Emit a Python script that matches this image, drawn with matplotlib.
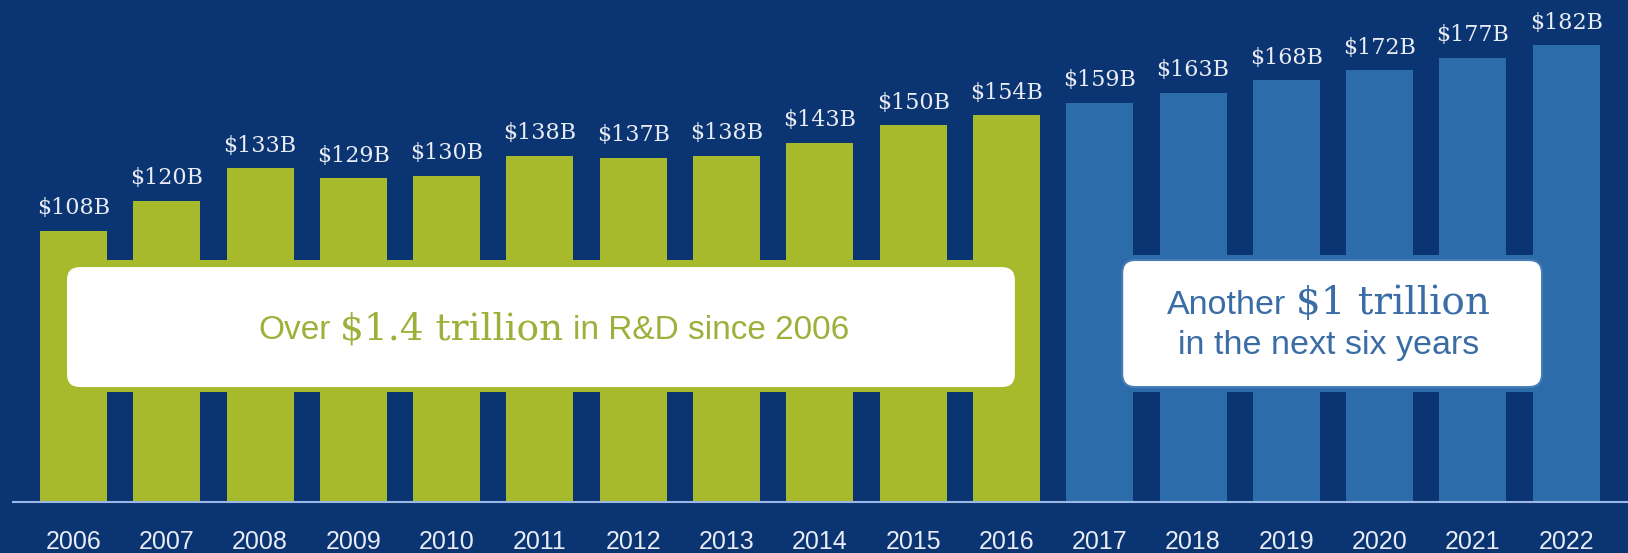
import matplotlib
matplotlib.use("Agg")
import matplotlib.pyplot as plt
from matplotlib import transforms
from matplotlib.patches import Rectangle, FancyBboxPatch

# R&D spend by year, $B (2006-2016 actual, 2017-2022 projected)
years = [str(y) for y in range(2006, 2023)]
rd_spend = [108, 120, 133, 129, 130, 138, 137, 138, 143, 150, 154,
            159, 163, 168, 172, 177, 182]
n_actual = 11

NAVY = "#0B3472"
GREEN = "#A7BA2C"
BLUE = "#2D6CAB"
LABEL = "#E8ECF4"
GREEN_TXT = "#9DB03A"
BLUE_TXT = "#3A6CA6"

SANS = "Liberation Sans"
SERIF = "DejaVu Serif"

W, H = 1628, 553
fig = plt.figure(figsize=(W / 100, H / 100), dpi=100, facecolor=NAVY)
# axes from the baseline up to the top edge
ax = fig.add_axes([13 / W, 51 / H, (W - 13) / W, 502 / H])
ax.set_facecolor(NAVY)

px_x = 93.3          # pixels per bar slot
px_y = 502 / 200     # pixels per $B
ax.set_xlim(-0.6484, -0.6484 + (W - 13) / px_x)
ax.set_ylim(0, 200)

bar_w = 67 / px_x
colors = [GREEN] * n_actual + [BLUE] * (len(years) - n_actual)
xs = list(range(len(years)))
ax.bar(xs, rd_spend, width=bar_w, color=colors, zorder=2)

# value labels above each bar
for x, v in zip(xs, rd_spend):
    ax.annotate(f"${v}B", (x, v), xytext=(0, 12), textcoords="offset points",
                ha="center", va="baseline", color=LABEL, fontsize=16,
                family=SERIF, zorder=5)

# coloured bands joining the bars behind the callouts
half = bar_w / 2
ax.add_patch(Rectangle((-half, 43.8), n_actual - 1 + bar_w, 96.4 - 43.8,
                       facecolor=GREEN, edgecolor="none", zorder=1))
ax.add_patch(Rectangle((n_actual - half, 43.8),
                       len(years) - 1 - n_actual + bar_w, 98.4 - 43.8,
                       facecolor=BLUE, edgecolor="none", zorder=1))

aspect = px_x / px_y
rad = 13 / px_x
ax.add_patch(FancyBboxPatch((-0.07, 45.8), 10.16, 93.6 - 45.8,
                            boxstyle=f"round,pad=0,rounding_size={rad}",
                            mutation_aspect=aspect, facecolor="white",
                            edgecolor="none", zorder=3))
ax.add_patch(FancyBboxPatch((11.24, 45.8), 4.50, 96.4 - 45.8,
                            boxstyle=f"round,pad=0,rounding_size={rad}",
                            mutation_aspect=aspect, facecolor="white",
                            edgecolor="#4A7DB8", linewidth=1.5, zorder=3))


def draw_runs(x, y, runs, color):
    """Lay out text runs with mixed fonts on one baseline, centred on x."""
    renderer = fig.canvas.get_renderer()
    texts, widths = [], []
    for s, family, size, gap in runs:
        t = ax.text(x, y, s, ha="left", va="baseline", color=color,
                    family=family, fontsize=size, zorder=4)
        texts.append(t)
        widths.append(t.get_window_extent(renderer).width + gap)
    widths[-1] -= runs[-1][3]
    off = -sum(widths) / 2
    for t, w in zip(texts, widths):
        t.set_transform(transforms.offset_copy(ax.transData, fig, x=off,
                                               y=0, units="dots"))
        off += w


sp = 0.278 * 24 * 100 / 72
draw_runs(5.15, 64.9, [("Over", SANS, 24, sp),
                       ("$1.4 trillion", SERIF, 27, sp),
                       ("in R&D since 2006", SANS, 24, 0)], GREEN_TXT)
draw_runs(13.45, 74.9, [("Another", SANS, 24.5, sp),
                        ("$1 trillion", SERIF, 28, 0)], BLUE_TXT)
draw_runs(13.45, 58.8, [("in the next six years", SANS, 24.5, 0)], BLUE_TXT)

ax.set_xticks(xs, years)
ax.set_yticks([])
ax.tick_params(axis="x", length=0, pad=20, labelsize=18, labelcolor=LABEL)
for lab in ax.get_xticklabels():
    lab.set_family(SANS)
for side in ("top", "left", "right"):
    ax.spines[side].set_visible(False)
ax.spines["bottom"].set_color("#9BB8E6")
ax.spines["bottom"].set_linewidth(1.5)
ax.spines["bottom"].set_zorder(3)

fig.savefig("out.png", dpi=100, facecolor=NAVY)
